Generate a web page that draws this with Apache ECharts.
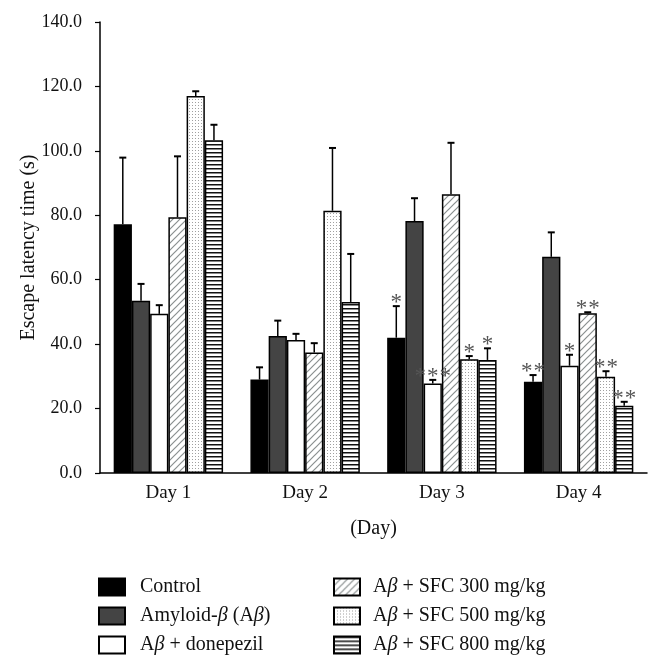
<!DOCTYPE html>
<html>
<head>
<meta charset="utf-8">
<script src="https://cdn.jsdelivr.net/npm/echarts@6/dist/echarts.min.js"></script>
<style>html,body{margin:0;padding:0;background:#fff}#c{width:662px;height:667px}</style>
</head>
<body>
<div id="c"></div>
<script>
const categories = ['Day 1', 'Day 2', 'Day 3', 'Day 4'];
const seriesNames = ['Control', 'Amyloid-β (Aβ)', 'Aβ + donepezil', 'Aβ + SFC 300 mg/kg', 'Aβ + SFC 500 mg/kg', 'Aβ + SFC 800 mg/kg'];
const controlVals = [77.2, 29.0, 42.0, 28.3];
const amyloidVals = [53.5, 42.5, 78.2, 67.1];
const donepezilVals = [49.4, 41.3, 27.8, 33.3];
const sfc300Vals = [79.4, 37.4, 86.5, 49.6];
const sfc500Vals = [117.0, 81.4, 35.3, 29.9];
const sfc800Vals = [103.3, 53.1, 35.1, 20.9];
const controlErr = [20.7, 3.8, 9.8, 2.1];
const amyloidErr = [5.2, 4.8, 7.1, 7.6];
const donepezilErr = [2.7, 1.9, 1.1, 3.4];
const sfc300Err = [18.9, 2.9, 16.0, 0.3];
const sfc500Err = [1.5, 19.5, 1.0, 1.7];
const sfc800Err = [4.8, 14.9, 3.6, 1.2];
const controlSig = ['', '', '*', '**'];
const amyloidSig = ['', '', '', ''];
const donepezilSig = ['', '', '***', '*'];
const sfc300Sig = ['', '', '', '**'];
const sfc500Sig = ['', '', '*', '**'];
const sfc800Sig = ['', '', '*', '**'];
const yTicks = [0, 20, 40, 60, 80, 100, 120, 140];

const allVals = [controlVals, amyloidVals, donepezilVals, sfc300Vals, sfc500Vals, sfc800Vals];
const allErr = [controlErr, amyloidErr, donepezilErr, sfc300Err, sfc500Err, sfc800Err];
const allSig = [controlSig, amyloidSig, donepezilSig, sfc300Sig, sfc500Sig, sfc800Sig];

function makePattern(w, h, draw) {
  const cv = document.createElement('canvas');
  cv.width = w; cv.height = h;
  const ctx = cv.getContext('2d');
  ctx.fillStyle = '#fff';
  ctx.fillRect(0, 0, w, h);
  draw(ctx);
  return { image: cv, repeat: 'repeat' };
}
const hatch = makePattern(7, 7, ctx => {
  ctx.strokeStyle = '#8a9090';
  ctx.lineWidth = 1.2;
  ctx.beginPath();
  ctx.moveTo(-1, 8); ctx.lineTo(8, -1);
  ctx.moveTo(-4, 4); ctx.lineTo(4, -4);
  ctx.moveTo(3, 11); ctx.lineTo(11, 3);
  ctx.stroke();
});
const dots = makePattern(3, 3, ctx => {
  ctx.fillStyle = '#a0a0a0';
  ctx.fillRect(0, 0, 1, 1);
});
const hlines = makePattern(4, 4, ctx => {
  ctx.fillStyle = '#111';
  ctx.fillRect(0, 0, 4, 1.5);
});
const fills = ['#000', '#444', '#fff', hatch, dots, hlines];

const FONT = '"Liberation Serif", "Times New Roman", serif';
const chart = echarts.init(document.getElementById('c'), null, { renderer: 'canvas' });

const barSeries = seriesNames.map((n, i) => ({
  name: n,
  type: 'bar',
  data: allVals[i],
  barGap: '0%',
  barCategoryGap: '20%',
  itemStyle: { color: fills[i], borderColor: '#000', borderWidth: 1.5 },
  emphasis: { disabled: true },
  animation: false
}));

const errData = [];
for (let s = 0; s < 6; s++) for (let d = 0; d < 4; d++) errData.push([d, s, allVals[s][d], allErr[s][d]]);

const errSeries = {
  type: 'custom',
  animation: false,
  z: 5,
  data: errData,
  renderItem(params, api) {
    const d = api.value(0), s = api.value(1), v = api.value(2), e = api.value(3);
    const band = api.size([1, 0])[0];
    const barW = band * 0.8 / 6;
    const x = api.coord([d, 0])[0] - band * 0.4 + barW * (s + 0.5);
    const yTop = api.coord([d, v])[1];
    const yErr = api.coord([d, v + e])[1];
    const children = [
      { type: 'line', shape: { x1: x, y1: yTop, x2: x, y2: yErr }, style: { stroke: '#000', lineWidth: 1.5 } },
      { type: 'line', shape: { x1: x - 3.5, y1: yErr, x2: x + 3.5, y2: yErr }, style: { stroke: '#000', lineWidth: 2 } }
    ];
    const sig = allSig[s][d];
    const n = sig.length;
    for (let k = 0; k < n; k++) {
      children.push({
        type: 'text',
        style: {
          text: '*', x: x + (k - (n - 1) / 2) * 12.5, y: yErr - 3,
          align: 'center', verticalAlign: 'middle',
          font: '23px ' + FONT, fill: '#555'
        }
      });
    }
    return { type: 'group', children };
  }
};

function fmtName(n) {
  return n.replace(/β/g, '{b|β}');
}
const legendCommon = {
  orient: 'vertical',
  itemWidth: 26,
  itemHeight: 17,
  itemGap: 9,
  padding: 0,
  selectedMode: false,
  icon: 'rect',
  formatter: fmtName,
  textStyle: {
    fontFamily: FONT, fontSize: 20, color: '#111', lineHeight: 17, padding: [0, 0, 0, 10],
    rich: { b: { fontFamily: FONT, fontSize: 20, fontStyle: 'italic', color: '#111', lineHeight: 17 } }
  }
};

chart.setOption({
  animation: false,
  backgroundColor: '#fff',
  grid: { left: 100, right: 15, top: 22, bottom: 194 },
  legend: [
    Object.assign({ left: 98, top: 577, data: seriesNames.slice(0, 3) }, legendCommon),
    Object.assign({ left: 333, top: 577, data: seriesNames.slice(3) }, legendCommon, { textStyle: Object.assign({}, legendCommon.textStyle, { padding: [0, 0, 0, 8] }) })
  ],
  xAxis: {
    type: 'category',
    data: categories,
    name: '(Day)',
    nameLocation: 'middle',
    nameGap: 46,
    nameTextStyle: { fontFamily: FONT, fontSize: 20, color: '#111' },
    axisLine: { lineStyle: { color: '#000', width: 1.5 } },
    axisTick: { length: 5, lineStyle: { color: '#000', width: 1.2 } },
    axisLabel: { fontFamily: FONT, fontSize: 19, color: '#111', margin: 11 }
  },
  yAxis: {
    type: 'value',
    min: yTicks[0],
    max: yTicks[yTicks.length - 1],
    interval: yTicks[1] - yTicks[0],
    name: 'Escape latency time (s)',
    nameLocation: 'middle',
    nameGap: 61,
    nameMoveOverlap: false,
    nameTextStyle: { fontFamily: FONT, fontSize: 20, color: '#111' },
    splitLine: { show: false },
    axisLine: { show: true, lineStyle: { color: '#000', width: 1.5 } },
    axisTick: { show: true, length: 5, lineStyle: { color: '#000', width: 1.2 } },
    axisLabel: { fontFamily: FONT, fontSize: 18, color: '#111', margin: 18, formatter: v => v.toFixed(1) }
  },
  series: barSeries.concat([errSeries])
});
</script>
</body>
</html>
